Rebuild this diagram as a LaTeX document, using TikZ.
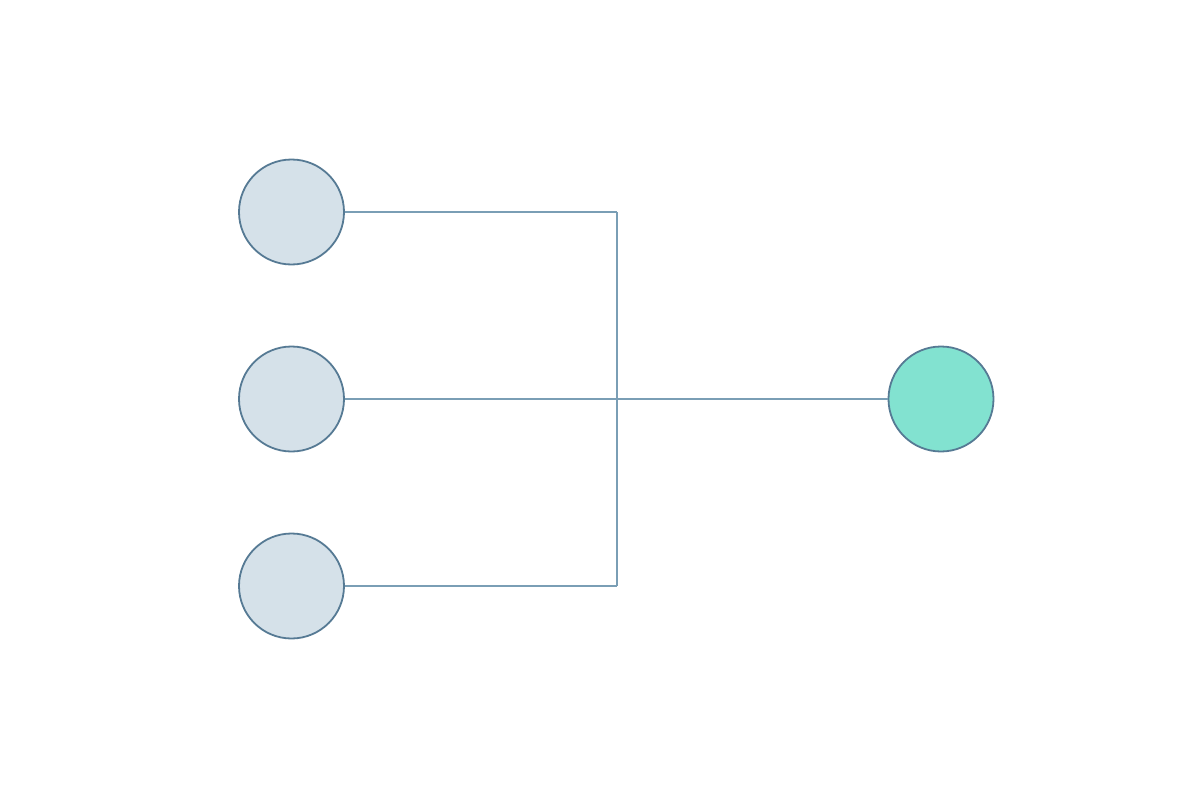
\documentclass[tikz,border=0pt]{standalone}
\begin{document}
\begin{tikzpicture}[x=1pt,y=-1pt,
  src/.style={circle,draw=nodestroke,fill=srcfill,line width=1.8pt,minimum size=105pt,inner sep=0pt},
  dst/.style={circle,draw=nodestroke,fill=dstfill,line width=1.8pt,minimum size=105pt,inner sep=0pt},
  link/.style={draw=linkcol,line width=2pt}]
\definecolor{nodestroke}{HTML}{567A94}
\definecolor{srcfill}{HTML}{D5E1E9}
\definecolor{dstfill}{HTML}{82E2D0}
\definecolor{linkcol}{HTML}{7A9EB5}
\useasboundingbox[fill=white] (0,0) rectangle (1200,800);
\coordinate (top) at (617,212);
\coordinate (mid) at (617,399);
\coordinate (bot) at (617,586);
\draw[link] (top) -- (bot);
\node[src] (a) at (291.5,212) {};
\node[src] (b) at (291.5,399) {};
\node[src] (c) at (291.5,586) {};
\node[dst] (d) at (941,399) {};
\draw[link] (a.east) -- (top);
\draw[link] (b.east) -- (d.west);
\draw[link] (c.east) -- (bot);
\end{tikzpicture}
\end{document}
